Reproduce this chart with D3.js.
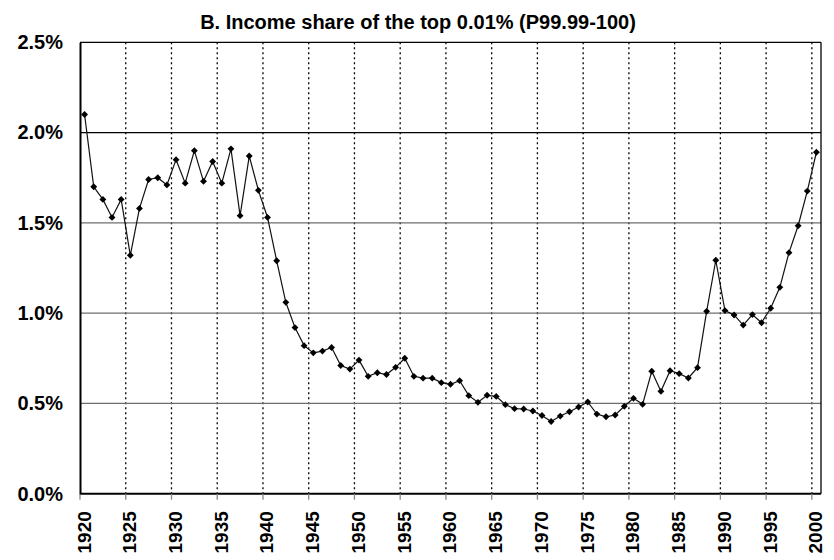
<!DOCTYPE html>
<html><head><meta charset="utf-8">
<script src="https://cdn.jsdelivr.net/npm/d3@7"></script>
<style>body{margin:0;background:#fff}svg{display:block}</style>
</head><body>
<svg id="c" width="834" height="560"></svg>
<script>
const years = d3.range(1920, 2001);
const shares = [
  2.10, 1.70, 1.63, 1.53, 1.63, 1.32, 1.58, 1.74, 1.75, 1.71,
  1.85, 1.72, 1.90, 1.73, 1.84, 1.72, 1.91, 1.54, 1.87, 1.68,
  1.53, 1.29, 1.06, 0.92, 0.82, 0.78, 0.79, 0.81, 0.71, 0.69,
  0.74, 0.65, 0.67, 0.66, 0.70, 0.75, 0.65, 0.64, 0.64, 0.615,
  0.606, 0.626, 0.543, 0.506, 0.545, 0.539, 0.493, 0.471, 0.469, 0.458,
  0.433, 0.40, 0.43, 0.454, 0.48, 0.508, 0.441, 0.426, 0.436, 0.484,
  0.528, 0.495, 0.678, 0.567, 0.681, 0.665, 0.641, 0.698, 1.01, 1.293,
  1.014, 0.99, 0.934, 0.992, 0.947, 1.027, 1.143, 1.335, 1.484, 1.676,
  1.891
];
const yTicks = [0, 0.5, 1.0, 1.5, 2.0, 2.5];
const xTickYears = d3.range(1920, 2001, 5);
const title = "B. Income share of the top 0.01% (P99.99-100)";

const L = 80, R = 821, T = 42.3, B = 493.7;
const svg = d3.select("#c");
const x = d3.scaleBand().domain(years).range([L, R]);
const y = d3.scaleLinear().domain([0, 2.5]).range([B, T]);
const font = "Arial, 'Liberation Sans', Helvetica, sans-serif";

// vertical dotted gridlines at category boundaries
svg.append("g").selectAll("line").data(xTickYears.filter(d => d > 1920)).join("line")
  .attr("x1", d => x(d)).attr("x2", d => x(d))
  .attr("y1", T).attr("y2", B)
  .attr("stroke", "#000").attr("stroke-width", 1.3).attr("stroke-dasharray", "2,3");

// horizontal gridlines
svg.append("g").selectAll("line").data(yTicks.filter(d => d > 0 && d < 2.5)).join("line")
  .attr("x1", L).attr("x2", R)
  .attr("y1", d => y(d)).attr("y2", d => y(d))
  .attr("stroke", d => d === 2.0 ? "#000" : "#6e6e6e").attr("stroke-width", 1.2);

// frame top & right
svg.append("line").attr("x1", L).attr("x2", R).attr("y1", T).attr("y2", T).attr("stroke", "#000").attr("stroke-width", 1.3);
svg.append("line").attr("x1", R).attr("x2", R).attr("y1", T).attr("y2", B).attr("stroke", "#000").attr("stroke-width", 1.3);

// x axis
const xAxis = d3.axisBottom(x).tickValues(xTickYears).tickSize(6).tickFormat(d => d);
const gx = svg.append("g").attr("transform", `translate(0,${B})`).call(xAxis);
gx.select(".domain").attr("stroke", "#000").attr("stroke-width", 2).attr("d", `M${L},0H${R}`);
gx.selectAll(".tick").attr("transform", d => `translate(${x(d)},0)`);
gx.selectAll(".tick line").attr("stroke", "#888").attr("stroke-width", 1.3);
gx.selectAll(".tick text")
  .attr("font-family", font).attr("font-size", 19).attr("font-weight", "bold").attr("fill", "#000")
  .attr("text-anchor", "end").attr("dy", null).attr("y", 0)
  .attr("transform", "translate(10.5,17.5) rotate(-90)");

// y axis
const yAxis = d3.axisLeft(y).tickValues(yTicks).tickSize(0).tickPadding(17).tickFormat(d => d.toFixed(1) + "%");
const gy = svg.append("g").attr("transform", `translate(${L},0)`).call(yAxis);
gy.select(".domain").attr("stroke", "#000").attr("stroke-width", 2);
gy.selectAll(".tick text")
  .attr("font-family", font).attr("font-size", 20).attr("font-weight", "bold").attr("fill", "#000");

// line
const pts = years.map((yr, i) => [x(yr) + x.bandwidth() / 2, y(shares[i])]);
svg.append("path").datum(pts).attr("d", d3.line())
  .attr("fill", "none").attr("stroke", "#111").attr("stroke-width", 1.2);

// markers
svg.append("g").selectAll("path").data(pts).join("path")
  .attr("transform", d => `translate(${d[0]},${d[1]})`)
  .attr("d", d3.symbol(d3.symbolDiamond2, 30)())
  .attr("fill", "#000");

// title
svg.append("text").attr("x", 418).attr("y", 28.5).attr("text-anchor", "middle")
  .attr("font-family", font).attr("font-size", 20).attr("font-weight", "bold").text(title);
</script>
</body></html>
